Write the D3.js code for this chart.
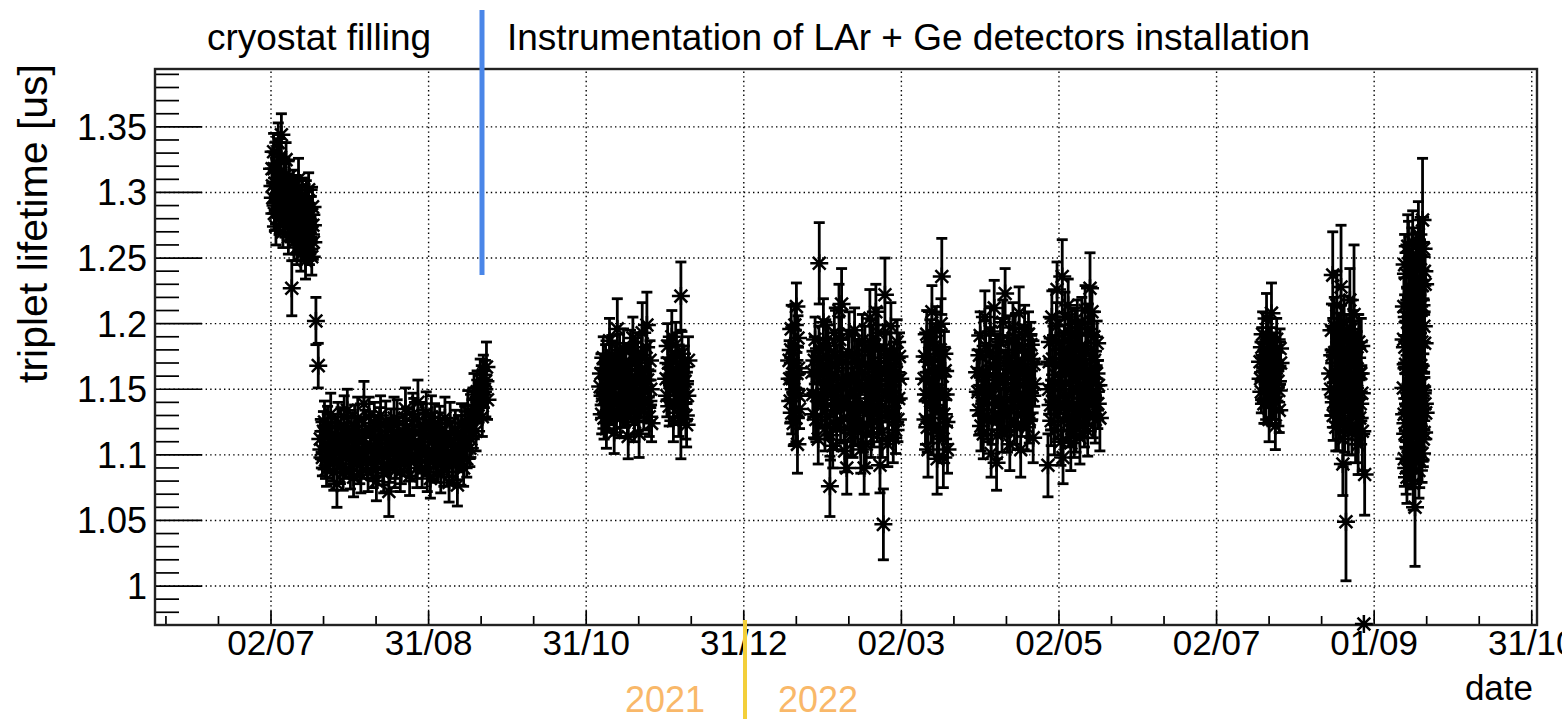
<!DOCTYPE html>
<html>
<head>
<meta charset="utf-8">
<script src="https://cdn.jsdelivr.net/npm/d3@7"></script>
<style>
  body { margin: 0; background: #fff; }
  text { font-family: "Liberation Sans", Arial, Helvetica, sans-serif; }
</style>
</head>
<body>
<svg id="chart" width="1562" height="719"></svg>
<script>
// measurement time = days since 2021-07-02, value = triplet lifetime [us], error [us]
var refDay = new Date(2021, 6, 2);

var runFill = [[0.4,1.318,.013],[0.7,1.296,.012],[1.0,1.331,.014],[1.3,1.284,.013],[1.6,1.307,.012],[1.9,1.274,.014],
  [2.2,1.322,.013],[2.5,1.293,.012],[2.8,1.338,.015],[3.1,1.281,.013],[3.4,1.302,.012],[3.7,1.315,.014],[4.0,1.344,.016],
  [4.3,1.289,.013],[4.6,1.270,.012],[4.9,1.309,.013],[5.2,1.296,.014],[5.5,1.278,.012],[5.8,1.325,.013],[6.1,1.287,.012],
  [6.4,1.300,.014],[6.7,1.266,.013],[7.0,1.312,.012],[7.3,1.283,.014],[7.6,1.295,.013],[8.0,1.227,.021],[8.2,1.272,.012],
  [8.5,1.304,.013],[8.8,1.262,.014],[9.1,1.288,.012],[9.4,1.276,.013],[9.7,1.299,.014],[10.0,1.258,.013],[10.3,1.284,.012],
  [10.6,1.310,.016],[10.9,1.268,.013],[11.2,1.290,.014],[11.5,1.253,.013],[11.8,1.279,.012],[12.1,1.296,.015],[12.4,1.262,.014],
  [12.7,1.285,.013],[13.0,1.271,.012],[13.3,1.248,.014],[13.6,1.292,.017],[13.9,1.265,.013],[14.2,1.277,.014],[14.5,1.302,.013],
  [14.8,1.257,.012],[15.1,1.283,.014],[15.4,1.268,.013],[15.7,1.251,.014],[16.0,1.289,.015],[16.3,1.262,.013],
  [0.55,1.305,.013],[1.15,1.318,.012],[1.75,1.290,.014],[2.35,1.311,.013],[2.95,1.299,.012],[3.55,1.327,.014],[4.15,1.304,.013],
  [4.75,1.286,.012],[5.35,1.313,.013],[5.95,1.298,.014],[6.55,1.281,.012],[7.15,1.296,.013],[7.75,1.277,.014],[8.35,1.289,.012],
  [8.95,1.281,.013],[9.55,1.267,.014],[10.15,1.293,.012],[10.75,1.279,.013],[11.35,1.270,.014],[11.95,1.286,.013],[12.55,1.275,.012],
  [13.15,1.292,.014],[13.75,1.280,.013],[14.35,1.266,.012],[14.95,1.274,.013],[15.55,1.283,.014],[16.15,1.275,.013],
  [17.3,1.202,.018],[18.2,1.168,.017]];

var runSummer21 = [[19.0,1.112,.015],[19.8,1.098,.014],[20.6,1.125,.016],[21.4,1.089,.013],[22.2,1.107,.015],[23.0,1.131,.016],
  [23.8,1.094,.014],[24.6,1.116,.015],[25.4,1.078,.018],[26.2,1.103,.014],[27.0,1.121,.015],[27.8,1.086,.013],[28.6,1.110,.014],
  [29.4,1.134,.016],[30.2,1.097,.015],[31.0,1.118,.014],[31.8,1.083,.015],[32.6,1.106,.013],[33.4,1.128,.016],[34.2,1.092,.014],
  [35.0,1.113,.015],[35.8,1.139,.017],[36.6,1.101,.014],[37.4,1.087,.015],[38.2,1.119,.014],[39.0,1.095,.013],[39.8,1.124,.016],
  [40.6,1.080,.015],[41.4,1.108,.014],[42.2,1.130,.015],[43.0,1.091,.014],[43.8,1.114,.013],[44.6,1.099,.015],[45.4,1.072,.019],
  [46.2,1.121,.014],[47.0,1.104,.015],[47.8,1.088,.013],[48.6,1.126,.016],[49.4,1.109,.014],[50.2,1.093,.015],[51.0,1.117,.014],
  [51.8,1.135,.016],[52.6,1.100,.013],[53.4,1.084,.015],[54.2,1.112,.014],[55.0,1.127,.016],[55.8,1.096,.014],[56.6,1.140,.017],
  [57.4,1.106,.015],[58.2,1.089,.014],[59.0,1.119,.015],[59.8,1.132,.016],[60.6,1.098,.014],[61.4,1.082,.015],[62.2,1.110,.013],
  [63.0,1.124,.015],[63.8,1.093,.014],[64.6,1.116,.016],[65.4,1.085,.014],[66.2,1.103,.015],[67.0,1.128,.016],[67.8,1.097,.014],
  [68.6,1.079,.015],[69.4,1.111,.014],[70.2,1.092,.015],[71.0,1.118,.016],[71.8,1.077,.016],[72.6,1.101,.014],[73.4,1.124,.015],
  [74.2,1.090,.014],[75.0,1.112,.015],[75.8,1.133,.016],[76.6,1.105,.014],[77.4,1.127,.015],[78.2,1.146,.016],[79.0,1.118,.015],
  [79.8,1.138,.014],[80.6,1.157,.016],[81.4,1.129,.015],[82.2,1.150,.014],[83.0,1.167,.019],[83.4,1.142,.015],
  [19.4,1.104,.014],[20.2,1.118,.015],[21.0,1.096,.014],[21.8,1.121,.016],[22.6,1.100,.014],[23.4,1.113,.015],[24.2,1.087,.014],
  [25.0,1.109,.015],[25.8,1.124,.016],[26.6,1.093,.014],[27.4,1.106,.015],[28.2,1.129,.016],[29.0,1.099,.014],[29.8,1.115,.015],
  [30.6,1.088,.014],[31.4,1.103,.015],[32.2,1.122,.016],[33.0,1.095,.014],[33.8,1.110,.015],[34.6,1.085,.014],[35.4,1.102,.015],
  [36.2,1.118,.016],[37.0,1.096,.014],[37.8,1.129,.015],[38.6,1.107,.014],[39.4,1.090,.015],[40.2,1.114,.016],[41.0,1.098,.014],
  [41.8,1.121,.015],[42.6,1.104,.014],[43.4,1.086,.015],[44.2,1.125,.016],[45.0,1.108,.014],[45.8,1.094,.015],[46.6,1.113,.014],
  [47.4,1.128,.016],[48.2,1.097,.015],[49.0,1.115,.014],[49.8,1.087,.015],[50.6,1.106,.014],[51.4,1.099,.015],[52.2,1.120,.016],
  [53.0,1.109,.014],[53.8,1.095,.015],[54.6,1.131,.016],[55.4,1.108,.014],[56.2,1.090,.015],[57.0,1.117,.014],[57.8,1.101,.015],
  [58.6,1.123,.016],[59.4,1.105,.014],[60.2,1.087,.015],[61.0,1.115,.014],[61.8,1.129,.016],[62.6,1.096,.015],[63.4,1.108,.014],
  [64.2,1.099,.015],[65.0,1.121,.016],[65.8,1.107,.014],[66.6,1.091,.015],[67.4,1.113,.014],[68.2,1.102,.015],[69.0,1.124,.016],
  [69.8,1.098,.014],[70.6,1.106,.015],[71.4,1.095,.014],[72.2,1.115,.015],[73.0,1.103,.014],[73.8,1.108,.015],[74.6,1.121,.016],
  [75.4,1.097,.014],[76.2,1.119,.015],[77.0,1.112,.014],[77.8,1.135,.016],[78.6,1.129,.015],[79.4,1.148,.016],[80.2,1.140,.015],
  [81.0,1.152,.016],[81.8,1.161,.015],[82.6,1.156,.016]];

var runOct21 = [[126.8,1.152,.014],[127.4,1.131,.015],[128.0,1.174,.016],[128.6,1.143,.014],[129.2,1.120,.015],[129.8,1.163,.014],
  [130.4,1.187,.017],[131.0,1.138,.015],[131.6,1.156,.014],[132.2,1.117,.016],[132.8,1.170,.015],[133.4,1.196,.023],[134.0,1.146,.014],
  [134.6,1.128,.015],[135.2,1.161,.016],[135.8,1.181,.015],[136.4,1.135,.014],[137.0,1.153,.016],[137.6,1.114,.017],[138.2,1.168,.015],
  [138.8,1.142,.014],[139.4,1.189,.016],[140.0,1.125,.015],[140.6,1.159,.014],[141.2,1.177,.016],[141.8,1.116,.018],[142.4,1.148,.015],
  [143.0,1.193,.023],[143.6,1.133,.014],[144.2,1.165,.015],[144.8,1.199,.025],[145.4,1.141,.016],[146.0,1.172,.015],[146.6,1.124,.014],
  [127.1,1.162,.015],[127.7,1.145,.014],[128.3,1.128,.016],[128.9,1.169,.015],[129.5,1.150,.014],[130.1,1.134,.015],[130.7,1.158,.016],
  [131.3,1.176,.015],[131.9,1.140,.014],[132.5,1.153,.015],[133.1,1.131,.016],[133.7,1.165,.015],[134.3,1.178,.014],[134.9,1.144,.015],
  [135.5,1.137,.016],[136.1,1.158,.015],[136.7,1.171,.014],[137.3,1.129,.015],[137.9,1.149,.016],[138.5,1.180,.015],[139.1,1.156,.014],
  [139.7,1.138,.015],[140.3,1.170,.016],[140.9,1.143,.015],[141.5,1.132,.014],[142.1,1.164,.015],[142.7,1.176,.016],[143.3,1.151,.015],
  [143.9,1.140,.014],[144.5,1.182,.015],[145.1,1.157,.016],[145.7,1.129,.015],[146.3,1.150,.014]];

var runNov21 = [[152.2,1.158,.016],[152.8,1.183,.017],[153.4,1.137,.015],[154.0,1.169,.016],[154.4,1.190,.020],[155.0,1.126,.016],
  [155.6,1.151,.015],[156.2,1.176,.017],[156.8,1.141,.016],[157.4,1.160,.018],[157.9,1.221,.026],[157.9,1.133,.036],[158.6,1.148,.017],
  [159.2,1.167,.016],[159.8,1.130,.018],[160.1,1.123,.017],[160.8,1.172,.018],
  [152.5,1.145,.016],[153.1,1.170,.017],[153.7,1.155,.016],[154.7,1.162,.017],[155.3,1.139,.016],[155.9,1.184,.017],[156.5,1.158,.016],
  [157.1,1.132,.018],[158.3,1.177,.017],[158.9,1.139,.016],[159.5,1.156,.017],[160.4,1.145,.018]];

var runJan22 = [[199.6,1.172,.015],[200.0,1.141,.016],[200.4,1.196,.018],[200.8,1.158,.015],[201.2,1.124,.017],[201.6,1.183,.016],
  [202.0,1.147,.015],[202.4,1.213,.018],[202.8,1.108,.022],[203.2,1.166,.016],[203.6,1.135,.015],
  [199.8,1.158,.016],[200.2,1.180,.017],[200.6,1.132,.016],[201.0,1.170,.015],[201.4,1.150,.017],[201.8,1.199,.016],[202.2,1.128,.018],
  [202.6,1.162,.016],[203.0,1.189,.017],[203.4,1.145,.016]];

var runFeb22 = [[208.4,1.163,.016],[209.0,1.131,.018],[209.6,1.188,.017],[210.2,1.145,.016],[210.8,1.112,.019],[211.2,1.246,.031],
  [211.6,1.172,.017],[212.2,1.139,.016],[212.8,1.201,.018],[213.4,1.120,.017],[214.0,1.156,.019],[214.6,1.183,.016],[215.3,1.076,.023],
  [215.8,1.149,.018],[216.4,1.107,.017],[217.0,1.193,.019],[217.6,1.134,.016],[218.2,1.166,.018],[218.8,1.210,.020],[219.4,1.126,.017],
  [219.8,1.215,.027],[220.4,1.152,.018],[221.0,1.103,.016],[221.8,1.090,.020],[222.4,1.178,.017],[223.0,1.138,.019],[223.6,1.160,.016],
  [224.2,1.116,.018],[224.8,1.195,.017],[225.4,1.143,.019],[226.0,1.124,.017],[226.6,1.171,.016],[227.2,1.104,.018],[227.8,1.187,.020],
  [228.5,1.090,.020],[229.0,1.150,.017],[229.6,1.132,.018],[230.2,1.168,.016],[230.7,1.204,.022],[231.2,1.117,.019],[231.8,1.182,.017],
  [232.4,1.145,.018],[233.0,1.209,.021],[233.6,1.126,.016],[234.2,1.161,.019],[234.6,1.092,.021],[235.2,1.137,.017],[235.9,1.047,.027],
  [236.5,1.222,.028],[237.0,1.174,.018],[237.6,1.108,.017],[238.2,1.153,.019],[238.8,1.198,.018],[239.4,1.131,.017],[240.0,1.167,.019],
  [240.6,1.119,.018],[241.2,1.186,.017],[241.8,1.143,.018],[242.4,1.158,.016],
  [208.7,1.146,.017],[209.3,1.172,.018],[209.9,1.127,.017],[210.5,1.160,.018],[211.1,1.181,.017],[211.9,1.139,.018],[212.5,1.165,.017],
  [213.1,1.150,.019],[213.7,1.185,.018],[214.3,1.129,.017],[214.9,1.170,.018],[215.5,1.115,.019],[216.1,1.161,.017],[216.7,1.142,.018],
  [217.3,1.176,.019],[217.9,1.121,.017],[218.5,1.153,.018],[219.1,1.188,.017],[219.7,1.140,.019],[220.1,1.171,.018],[220.7,1.128,.017],
  [221.4,1.159,.019],[222.1,1.137,.018],[222.7,1.192,.017],[223.3,1.117,.018],[223.9,1.176,.019],[224.5,1.149,.017],[225.1,1.126,.018],
  [225.7,1.169,.019],[226.3,1.155,.017],[226.9,1.134,.018],[227.5,1.163,.017],[228.2,1.121,.019],[228.8,1.180,.018],[229.3,1.108,.017],
  [229.9,1.157,.019],[230.5,1.139,.018],[231.0,1.186,.017],[231.5,1.148,.018],[232.1,1.125,.019],[232.7,1.170,.017],[233.3,1.152,.018],
  [233.9,1.193,.019],[234.4,1.133,.017],[234.9,1.166,.018],[235.5,1.117,.019],[236.2,1.181,.018],[236.8,1.145,.017],[237.3,1.160,.019],
  [237.9,1.129,.018],[238.5,1.176,.017],[239.1,1.152,.018],[239.7,1.113,.019],[240.3,1.140,.017],[240.9,1.163,.018],[241.5,1.127,.017],
  [242.1,1.175,.018]];

var runMar22 = [[251.6,1.158,.017],[252.1,1.127,.019],[252.6,1.192,.018],[253.1,1.104,.021],[253.6,1.171,.017],[254.1,1.141,.018],
  [254.6,1.209,.020],[255.1,1.119,.019],[255.6,1.183,.017],[256.1,1.150,.018],[256.6,1.097,.027],[257.1,1.166,.018],[257.6,1.134,.017],
  [258.1,1.200,.019],[258.4,1.236,.029],[258.9,1.112,.018],[259.0,1.098,.023],[259.4,1.177,.017],[259.9,1.146,.019],[260.6,1.104,.018],
  [251.8,1.175,.018],[252.3,1.146,.017],[252.8,1.121,.019],[253.3,1.163,.018],[253.8,1.186,.017],[254.3,1.128,.019],[254.8,1.154,.018],
  [255.3,1.173,.017],[255.8,1.138,.019],[256.3,1.195,.018],[256.8,1.149,.017],[257.3,1.117,.019],[257.8,1.180,.018],[258.6,1.160,.017],
  [259.2,1.131,.019],[259.7,1.164,.018],[260.2,1.125,.017]];

var runApr22 = [[272.0,1.163,.017],[272.6,1.134,.019],[273.2,1.191,.018],[273.8,1.148,.017],[274.4,1.116,.019],[275.0,1.205,.020],
  [275.6,1.157,.018],[276.2,1.127,.017],[276.8,1.178,.019],[277.4,1.101,.018],[278.0,1.145,.017],[278.6,1.212,.021],[279.2,1.170,.018],
  [279.5,1.094,.021],[280.4,1.138,.019],[281.0,1.186,.018],[281.6,1.119,.017],[282.2,1.159,.019],[282.8,1.223,.019],[283.4,1.132,.018],
  [284.0,1.174,.017],[284.6,1.108,.020],[285.2,1.150,.018],[285.8,1.197,.019],[286.4,1.125,.017],[287.0,1.166,.018],[287.6,1.142,.019],
  [288.2,1.208,.020],[288.8,1.104,.021],[289.4,1.181,.018],[290.0,1.136,.017],[290.6,1.160,.019],[291.2,1.121,.018],[291.8,1.192,.017],
  [292.4,1.147,.019],[293.0,1.173,.018],[293.6,1.113,.019],[294.2,1.154,.017],
  [272.3,1.148,.018],[272.9,1.176,.017],[273.5,1.122,.019],[274.1,1.161,.018],[274.7,1.139,.017],[275.3,1.183,.019],[275.9,1.130,.018],
  [276.5,1.151,.017],[277.1,1.194,.019],[277.7,1.126,.018],[278.3,1.167,.017],[278.9,1.143,.019],[279.8,1.115,.018],[280.1,1.175,.017],
  [280.7,1.155,.019],[281.3,1.133,.018],[281.9,1.201,.017],[282.5,1.140,.019],[283.1,1.162,.018],[283.7,1.119,.017],[284.3,1.187,.019],
  [284.9,1.136,.018],[285.5,1.168,.017],[286.1,1.146,.019],[286.7,1.189,.018],[287.3,1.121,.017],[287.9,1.172,.019],[288.5,1.153,.018],
  [289.1,1.131,.017],[289.7,1.164,.019],[290.3,1.196,.018],[290.9,1.141,.017],[291.5,1.158,.019],[292.1,1.127,.018],[292.7,1.184,.017],
  [293.3,1.145,.019],[293.9,1.169,.018]];

var runMay22 = [[299.3,1.092,.024],[299.8,1.171,.018],[300.3,1.138,.019],[300.8,1.205,.020],[301.3,1.152,.017],[301.8,1.119,.019],
  [302.3,1.187,.018],[302.8,1.226,.021],[303.3,1.143,.018],[303.8,1.168,.019],[304.3,1.110,.018],[304.8,1.236,.028],[305.1,1.098,.020],
  [305.6,1.181,.018],[306.1,1.155,.019],[306.6,1.128,.017],[307.1,1.214,.020],[307.6,1.163,.018],[308.1,1.109,.021],[308.6,1.192,.019],
  [309.1,1.137,.018],[309.6,1.174,.017],[310.1,1.121,.019],[310.6,1.200,.018],[311.1,1.149,.017],[311.6,1.113,.020],[312.1,1.183,.019],
  [312.6,1.132,.018],[313.1,1.166,.017],[313.6,1.210,.019],[314.1,1.141,.018],[314.6,1.118,.019],[315.5,1.227,.027],[316.0,1.175,.018],
  [316.5,1.146,.017],[317.0,1.190,.019],[317.5,1.127,.018],[318.0,1.162,.017],[318.5,1.139,.019],[319.3,1.128,.025],
  [299.55,1.150,.019],[300.05,1.186,.018],[300.55,1.126,.019],[301.05,1.173,.018],[301.55,1.140,.017],[302.05,1.161,.019],
  [302.55,1.198,.018],[303.05,1.131,.019],[303.55,1.185,.018],[304.05,1.153,.017],[304.55,1.174,.019],[305.35,1.137,.018],
  [305.85,1.205,.019],[306.35,1.144,.018],[306.85,1.177,.017],[307.35,1.125,.019],[307.85,1.189,.018],[308.35,1.150,.017],
  [308.85,1.168,.019],[309.35,1.116,.018],[309.85,1.193,.019],[310.35,1.158,.018],[310.85,1.135,.017],[311.35,1.180,.019],
  [311.85,1.147,.018],[312.35,1.201,.019],[312.85,1.161,.018],[313.35,1.123,.017],[313.85,1.178,.019],[314.35,1.155,.018],
  [314.85,1.196,.019],[315.25,1.140,.018],[315.75,1.163,.017],[316.25,1.209,.019],[316.75,1.131,.018],[317.25,1.172,.019],
  [317.75,1.148,.018],[318.25,1.185,.017],[318.75,1.153,.019]];

var runJul22 = [[381.0,1.171,.015],[381.5,1.148,.016],[382.0,1.192,.017],[382.5,1.139,.015],[383.0,1.166,.016],[383.5,1.204,.019],
  [384.0,1.151,.015],[384.5,1.127,.017],[385.0,1.181,.016],[385.4,1.208,.023],[385.9,1.143,.016],[386.4,1.162,.015],[386.9,1.122,.018],
  [387.4,1.188,.016],[387.9,1.156,.015],[388.4,1.134,.017],[388.9,1.170,.016],
  [381.2,1.158,.016],[381.7,1.182,.015],[382.2,1.163,.016],[382.7,1.176,.015],[383.2,1.140,.016],[383.7,1.171,.015],[384.2,1.188,.016],
  [384.7,1.158,.015],[385.2,1.139,.016],[385.7,1.174,.015],[386.2,1.150,.016],[386.7,1.178,.015],[387.2,1.140,.016],[387.7,1.168,.015],
  [388.2,1.149,.016],[388.7,1.181,.015]];

var runAug22 = [[408.0,1.162,.018],[408.5,1.195,.020],[409.0,1.237,.033],[409.4,1.140,.019],[409.8,1.178,.021],[410.2,1.121,.018],
  [410.6,1.214,.026],[411.0,1.155,.019],[411.4,1.186,.022],[411.8,1.132,.020],[412.2,1.228,.047],[412.6,1.168,.019],[412.9,1.093,.024],
  [413.0,1.112,.021],[413.4,1.201,.020],[413.8,1.146,.018],[414.1,1.049,.045],[414.5,1.176,.020],[415.3,1.138,.021],[415.6,1.218,.024],
  [416.0,1.160,.019],[416.4,1.122,.022],[416.8,1.190,.020],[417.2,1.207,.053],[417.6,1.151,.019],[418.0,1.129,.021],[418.4,1.174,.020],
  [418.8,1.108,.023],[419.2,1.162,.019],[419.6,1.139,.022],[420.0,1.183,.021],[420.4,1.118,.030],[421.0,0.971,0],[421.3,1.085,.031],
  [408.2,1.150,.020],[408.8,1.176,.021],[409.2,1.130,.019],[409.6,1.198,.022],[410.0,1.160,.020],[410.4,1.143,.021],[410.8,1.181,.019],
  [411.2,1.125,.022],[411.6,1.170,.020],[412.0,1.152,.019],[412.4,1.193,.021],[412.8,1.138,.020],[413.2,1.160,.019],[413.6,1.124,.022],
  [414.3,1.187,.020],[414.7,1.155,.021],[415.0,1.119,.019],[415.4,1.176,.020],[415.8,1.142,.021],[416.2,1.196,.022],[416.6,1.134,.019],
  [417.0,1.168,.020],[417.4,1.181,.021],[417.8,1.116,.022],[418.2,1.157,.019],[418.6,1.143,.020],[419.0,1.186,.021],[419.4,1.128,.020],
  [419.8,1.162,.019],[420.2,1.147,.021]];

var runSep22 = [[436.2,1.151,.019],[436.3,1.188,.021],[436.4,1.213,.022],[436.5,1.131,.020],[436.6,1.097,.021],[436.7,1.245,.023],
  [436.8,1.182,.020],[436.9,1.116,.021],[437.0,1.124,.019],[437.1,1.169,.022],[437.2,1.238,.022],[437.3,1.090,.020],[437.4,1.166,.021],
  [437.5,1.205,.022],[437.6,1.083,.020],[437.7,1.143,.021],[437.8,1.201,.019],[437.9,1.259,.024],[438.0,1.139,.022],[438.1,1.106,.020],
  [438.2,1.254,.024],[438.3,1.187,.021],[438.4,1.110,.020],[438.5,1.218,.022],[438.6,1.176,.021],[438.7,1.134,.020],[438.8,1.228,.023],
  [438.9,1.154,.021],[439.0,1.093,.019],[439.1,1.196,.022],[439.2,1.157,.022],[439.3,1.121,.020],[439.4,1.207,.020],[439.5,1.250,.023],
  [439.6,1.129,.021],[439.7,1.180,.022],[439.8,1.262,.024],[439.9,1.101,.021],[440.0,1.078,.020],[440.1,1.163,.021],[440.2,1.224,.022],
  [440.3,1.141,.020],[440.5,1.190,.022],[440.7,1.060,.045],[440.8,1.144,.021],[440.9,1.210,.022],[441.0,1.246,.023],[441.1,1.118,.021],
  [441.2,1.106,.020],[441.3,1.175,.022],[441.4,1.171,.022],[441.5,1.235,.023],[441.6,1.222,.021],[441.7,1.132,.020],[441.8,1.120,.020],
  [441.9,1.199,.021],[442.0,1.268,.025],[442.1,1.152,.021],[442.2,1.088,.021],[442.3,1.213,.022],[442.4,1.196,.022],[442.5,1.095,.020],
  [442.6,1.135,.020],[442.7,1.257,.024],[442.8,1.241,.023],[442.9,1.168,.021],[443.0,1.162,.021],[443.1,1.126,.020],[443.2,1.214,.021],
  [443.3,1.186,.022],[443.4,1.101,.022],[443.5,1.229,.023],[443.6,1.279,.047],[443.7,1.147,.020],[443.8,1.149,.020],[443.9,1.112,.021],
  [444.0,1.257,.024],[444.1,1.198,.021],[444.2,1.117,.021],[444.3,1.240,.022],[444.4,1.185,.022],[444.5,1.139,.020],[444.6,1.230,.021],
  [444.8,1.132,.020]];

// axis ticks
var xTickTimes = ["2021-07-02T00:00","2021-08-31T17:00","2021-10-31T10:00","2021-12-31T03:00","2022-03-01T20:00",
  "2022-05-01T13:00","2022-07-01T06:00","2022-08-30T23:00","2022-10-30T16:00"];
var xTickLabels = ["02/07","31/08","31/10","31/12","02/03","02/05","02/07","01/09","31/10"];
var yTicks = [1, 1.05, 1.1, 1.15, 1.2, 1.25, 1.3, 1.35];
var yTickLabels = ["1","1.05","1.1","1.15","1.2","1.25","1.3","1.35"];

var frame = {left: 155, right: 1537, top: 69, bottom: 625};

var svg = d3.select("#chart");

var x = d3.scaleTime()
  .domain([new Date("2021-05-18T07:30"), new Date("2022-11-01T16:30")])
  .range([frame.left, frame.right]);
var y = d3.scaleLinear()
  .domain([0.9703, 1.3941])
  .range([frame.bottom, frame.top]);

var xMajor = xTickTimes.map(function(s){ return new Date(s); });

// minor x ticks: thirds of the major spacing
var xMinorPx = [];
var step = (x(xMajor[1]) - x(xMajor[0])) / 3;
for (var p = x(xMajor[0]) - step; p > frame.left; p -= step) xMinorPx.push(p);
for (var i = 0; i < xMajor.length; i++) {
  for (var k = 1; k < 3; k++) {
    var q = x(xMajor[i]) + k * step;
    if (q < frame.right) xMinorPx.push(q);
  }
}
var yMinor = d3.range(98, 140).map(function(v){ return v / 100; })
  .filter(function(v){ return Math.round(v*100) % 5 !== 0; });

// grid
var grid = svg.append("g").attr("stroke", "#000").attr("stroke-width", 1.4)
  .attr("stroke-dasharray", "1.4 3.2");
grid.selectAll("line.gx").data(xMajor).enter().append("line")
  .attr("x1", function(d){ return x(d); }).attr("x2", function(d){ return x(d); })
  .attr("y1", frame.bottom).attr("y2", frame.top + 1);
grid.selectAll("line.gy").data(yTicks).enter().append("line")
  .attr("y1", function(d){ return y(d); }).attr("y2", function(d){ return y(d); })
  .attr("x1", frame.left).attr("x2", frame.right);

// ticks
var ticks = svg.append("g").attr("stroke", "#000").attr("stroke-width", 1.7);
ticks.selectAll("line.xmaj").data(xMajor).enter().append("line")
  .attr("x1", function(d){ return x(d); }).attr("x2", function(d){ return x(d); })
  .attr("y1", frame.bottom).attr("y2", frame.bottom - 14);
ticks.selectAll("line.xmin").data(xMinorPx).enter().append("line")
  .attr("x1", function(d){ return d; }).attr("x2", function(d){ return d; })
  .attr("y1", frame.bottom).attr("y2", frame.bottom - 9);
ticks.selectAll("line.ymaj").data(yTicks).enter().append("line")
  .attr("y1", function(d){ return y(d); }).attr("y2", function(d){ return y(d); })
  .attr("x1", frame.left).attr("x2", frame.left + 47);
ticks.selectAll("line.ymin").data(yMinor).enter().append("line")
  .attr("y1", function(d){ return y(d); }).attr("y2", function(d){ return y(d); })
  .attr("x1", frame.left).attr("x2", frame.left + 24);

// tick labels
svg.append("g").selectAll("text").data(xMajor).enter().append("text")
  .attr("x", function(d){ return x(d); }).attr("y", 655)
  .attr("text-anchor", "middle").attr("font-size", 35)
  .text(function(d, i){ return xTickLabels[i]; });
svg.append("g").selectAll("text").data(yTicks).enter().append("text")
  .attr("x", 147).attr("y", function(d){ return y(d); }).attr("dy", "0.36em")
  .attr("text-anchor", "end").attr("font-size", 36)
  .text(function(d, i){ return yTickLabels[i]; });

// frame
svg.append("rect")
  .attr("x", frame.left).attr("y", frame.top)
  .attr("width", frame.right - frame.left).attr("height", frame.bottom - frame.top)
  .attr("fill", "none").attr("stroke", "#222").attr("stroke-width", 2.4);

// axis titles
svg.append("text")
  .attr("transform", "translate(47,64) rotate(-90)")
  .attr("text-anchor", "end").attr("font-size", 41)
  .text("triplet lifetime [us]");
svg.append("text")
  .attr("x", 1533).attr("y", 700).attr("text-anchor", "end").attr("font-size", 35)
  .text("date");

// data points with error bars
var runs = [runFill, runSummer21, runOct21, runNov21, runJan22, runFeb22, runMar22,
  runApr22, runMay22, runJul22, runAug22, runSep22];
var points = [];
runs.forEach(function(r){
  r.forEach(function(p){
    points.push({t: new Date(refDay.getTime() + p[0] * 864e5), v: p[1], e: p[2]});
  });
});

var pts = svg.append("g").attr("stroke", "#000").attr("fill", "none");
var eb = pts.selectAll("g.eb").data(points.filter(function(d){ return d.e > 0; }))
  .enter().append("g").attr("stroke-width", 2.8);
eb.append("line")
  .attr("x1", function(d){ return x(d.t); }).attr("x2", function(d){ return x(d.t); })
  .attr("y1", function(d){ return y(d.v - d.e); }).attr("y2", function(d){ return y(d.v + d.e); });
eb.append("line")
  .attr("x1", function(d){ return x(d.t) - 5.5; }).attr("x2", function(d){ return x(d.t) + 5.5; })
  .attr("y1", function(d){ return y(d.v + d.e); }).attr("y2", function(d){ return y(d.v + d.e); });
eb.append("line")
  .attr("x1", function(d){ return x(d.t) - 5.5; }).attr("x2", function(d){ return x(d.t) + 5.5; })
  .attr("y1", function(d){ return y(d.v - d.e); }).attr("y2", function(d){ return y(d.v - d.e); });

var star = "M-9,0H9M0,-9V9M-6.4,-6.4L6.4,6.4M-6.4,6.4L6.4,-6.4";
pts.selectAll("path").data(points).enter().append("path")
  .attr("d", star).attr("stroke-width", 2.5)
  .attr("transform", function(d){ return "translate(" + x(d.t) + "," + y(d.v) + ")"; });

// annotations added on the plot
svg.append("text").attr("x", 207).attr("y", 50).attr("font-size", 37).text("cryostat filling");
svg.append("text").attr("x", 507).attr("y", 50).attr("font-size", 37)
  .text("Instrumentation of LAr + Ge detectors installation");
svg.append("line").attr("x1", 482).attr("x2", 482).attr("y1", 10).attr("y2", 275)
  .attr("stroke", "#4a86e8").attr("stroke-width", 5);
svg.append("line").attr("x1", 745).attr("x2", 745).attr("y1", 620).attr("y2", 719)
  .attr("stroke", "#f3cf3a").attr("stroke-width", 4);
svg.append("text").attr("x", 625).attr("y", 712).attr("font-size", 36).attr("fill", "#f9b869").text("2021");
svg.append("text").attr("x", 778).attr("y", 712).attr("font-size", 36).attr("fill", "#f9b869").text("2022");
</script>
</body>
</html>
